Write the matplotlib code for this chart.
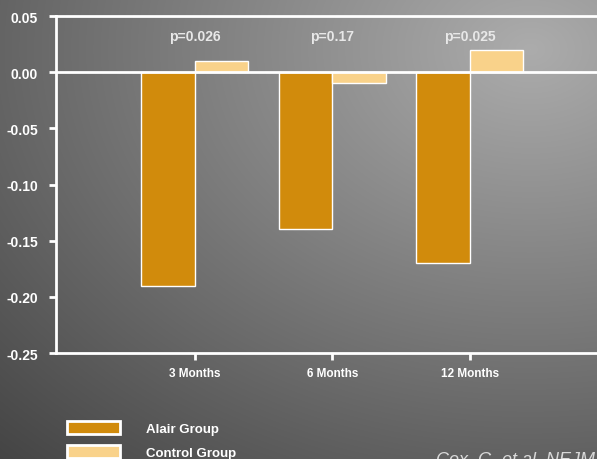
import numpy as np
import matplotlib
matplotlib.use("Agg")
import matplotlib.pyplot as plt

# datos
meses = ["3 Months", "6 Months", "12 Months"]
alair = [-0.19, -0.14, -0.17]
control = [0.01, -0.01, 0.02]
pvalores = ["p=0.026", "p=0.17", "p=0.025"]
yticks = [0.05, 0.00, -0.05, -0.10, -0.15, -0.20, -0.25]

plt.rcParams['font.family'] = ['Liberation Sans', 'DejaVu Sans']

fig = plt.figure(figsize=(5.97, 4.60), dpi=100)

# fondo gris degradado
bg = fig.add_axes([0, 0, 1, 1], zorder=0)
h, w = 460, 597
yy, xx = np.mgrid[0:h, 0:w]
d = np.sqrt((xx - 530.0) ** 2 + ((yy - 50.0) * 1.35) ** 2)
g = np.clip(172 - 0.135 * d, 50, 200) / 255.0
bg.imshow(np.dstack([g, g, g]), aspect="auto", extent=[0, 1, 0, 1], origin="upper")
bg.set_axis_off()

ax = fig.add_axes([0.0938, 0.2304, 0.923, 0.7326], zorder=1)
ax.patch.set_alpha(0)

x = np.arange(len(meses))
ancho = 0.39
ax.bar(x - ancho / 2, alair, ancho, color="#D18B0C", edgecolor="white",
       linewidth=1, label="Alair Group", zorder=3)
ax.bar(x + ancho / 2, control, ancho, color="#F9D28A", edgecolor="white",
       linewidth=1, label="Control Group", zorder=3)
ax.axhline(0, color="white", lw=2, zorder=4)

for i, p in enumerate(pvalores):
    ax.text(x[i], 0.032, p, ha="center", va="center", color="#e8e8e8",
            fontsize=10, fontweight="bold")

ax.set_xlim(-1.01, 3.0)
ax.set_ylim(-0.25, 0.05)
ax.set_yticks(yticks)
ax.set_yticklabels(["%.2f" % v for v in yticks])
ax.set_xticks(x)
ax.set_xticklabels(meses)
for s in ["left", "top", "bottom"]:
    ax.spines[s].set_color("white")
    ax.spines[s].set_linewidth(2)
ax.spines["right"].set_visible(False)
ax.tick_params(axis="y", colors="white", length=5, width=2, pad=8,
               labelsize=10)
ax.tick_params(axis="x", colors="white", length=5, width=2, pad=5,
               labelsize=8.5)
for t in ax.get_xticklabels() + ax.get_yticklabels():
    t.set_fontweight("bold")

leg = ax.legend(loc="upper left", bbox_to_anchor=(0.112, 0.082),
                bbox_transform=fig.transFigure, frameon=False,
                handlelength=4.0, handleheight=1.05, handletextpad=2.0,
                labelspacing=0.8, borderpad=0, borderaxespad=0,
                prop={"size": 9.5, "weight": "bold"}, labelcolor="white")
for hnd in leg.legend_handles:
    hnd.set_linewidth(2)

fig.text(436 / 597, -0.009, "Cox, G. et al. NEJM 2007", color="#d8d8d8",
         fontsize=13, style="italic", ha="left", va="baseline")

fig.savefig("out.png", dpi=100)
